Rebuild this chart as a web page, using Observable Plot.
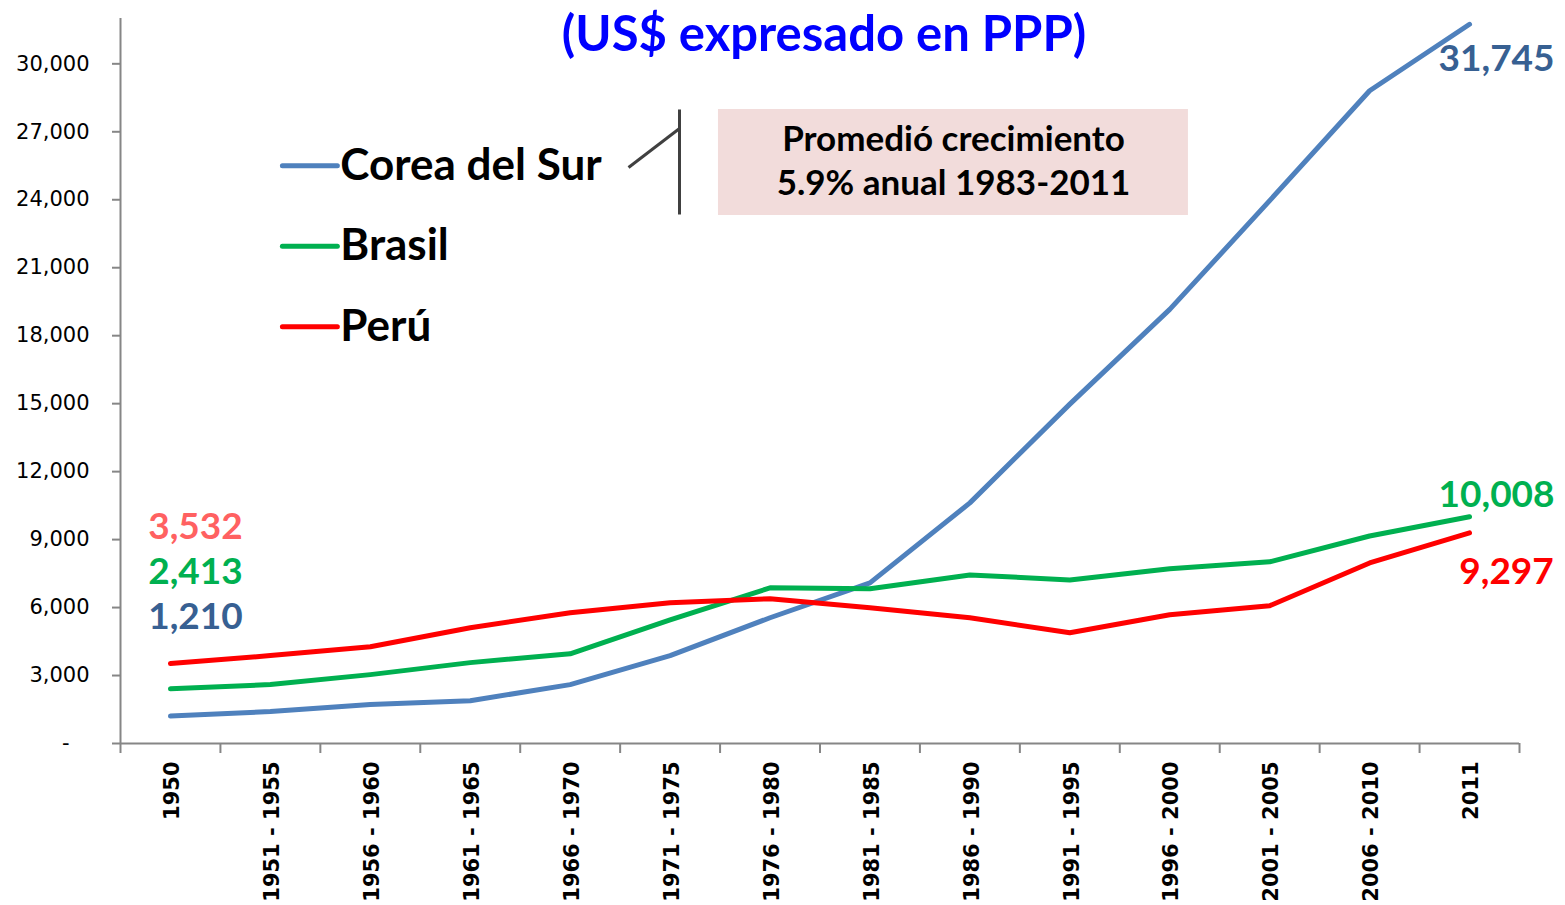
<!DOCTYPE html>
<html>
<head>
<meta charset="utf-8">
<script src="https://cdn.jsdelivr.net/npm/d3@7"></script>
<script src="https://cdn.jsdelivr.net/npm/@observablehq/plot@0.6"></script>
<style>
  html, body { margin: 0; padding: 0; background: #fff; }
  #chart svg { display: block; }
</style>
</head>
<body>
<div id="chart"></div>
<script>
// ---- Data ----
const categories = ["1950","1951 - 1955","1956 - 1960","1961 - 1965","1966 - 1970","1971 - 1975","1976 - 1980","1981 - 1985","1986 - 1990","1991 - 1995","1996 - 2000","2001 - 2005","2006 - 2010","2011"];
const seriesNames = ["Corea del Sur", "Brasil", "Perú"];
const corea  = [1210, 1410, 1720, 1890, 2600, 3880, 5550, 7090, 10620, 14980, 19160, 23960, 28810, 31745];
const brasil = [2413, 2600, 3040, 3570, 3960, 5460, 6870, 6830, 7440, 7220, 7710, 8020, 9160, 10008];
const peru   = [3532, 3880, 4270, 5110, 5770, 6210, 6390, 5990, 5550, 4890, 5680, 6080, 7970, 9297];
const yTicks = [0, 3000, 6000, 9000, 12000, 15000, 18000, 21000, 24000, 27000, 30000];
const titleText = "(US$ expresado en PPP)";
const noteText = "Promedió crecimiento\n5.9% anual 1983-2011";

// ---- Build table ----
const seriesValues = [corea, brasil, peru];
const rows = seriesNames.flatMap((s, k) => seriesValues[k].map((v, i) => ({series: s, i, cat: categories[i], value: v})));
const lineColors = ["#4F81BD", "#00B050", "#FF0000"];
const fmt = d3.format(",");
const axisGray = "#868686";
const calibri = "Lato, 'Open Sans', sans-serif";
const verdana = "'DejaVu Sans', Verdana, sans-serif";

const last = categories.length - 1;
const pick = (s, i) => rows.filter(d => d.series === s && d.i === i);

// label styling per series (end / start)
const valueLabels = [
  {s: "Corea del Sur", i: last, fill: "#376092", dx: 27, dy: 35},
  {s: "Brasil",        i: last, fill: "#00B050", dx: 27, dy: -22},
  {s: "Perú",          i: last, fill: "#FF0000", dx: 37, dy: 39},
  {s: "Perú",          i: 0,    fill: "#FF6161", dx: 25, dy: -136},
  {s: "Brasil",        i: 0,    fill: "#00B050", dx: 25, dy: -117},
  {s: "Corea del Sur", i: 0,    fill: "#376092", dx: 25, dy: -99}
];

// legend rows in chart units
const legendY = [25500, 21950, 18400];
const legend = seriesNames.map((s, k) => ({series: s, y: legendY[k]}));

const marks = [
  // axis lines
  Plot.ruleY([0], {stroke: axisGray, strokeWidth: 2}),
  Plot.ruleX([-0.5], {stroke: axisGray, strokeWidth: 2}),
  // y axis
  Plot.axisY({
    ticks: yTicks, tickSize: 8, tickPadding: 23, label: null,
    tickFormat: d => d === 0 ? "-\u00a0\u00a0\u00a0" : fmt(d),
    stroke: axisGray, strokeWidth: 2, fill: "#000",
    fontSize: 21, fontFamily: verdana
  }),
  // x boundary ticks
  Plot.axisX({
    ticks: d3.range(-0.5, categories.length, 1), tickSize: 10, label: null,
    tickFormat: () => "", stroke: axisGray, strokeWidth: 2
  }),
  // x labels
  Plot.axisX({
    ticks: d3.range(categories.length), tickSize: 0, tickPadding: 18, label: null,
    tickRotate: -90, tickFormat: i => categories[i], fill: "#000", dx: 2,
    fontSize: 21, fontWeight: "bold", fontFamily: verdana
  }),
  // series lines
  Plot.line(rows, {x: "i", y: "value", z: "series", stroke: "series", strokeWidth: 5, strokeLinecap: "round", strokeLinejoin: "round"}),
  // value labels
  ...valueLabels.map(l => Plot.text(pick(l.s, l.i), {
    x: "i", y: "value", text: d => fmt(d.value), fill: l.fill, dx: l.dx, dy: l.dy,
    lineAnchor: "middle", textAnchor: "middle", fontSize: 37, fontWeight: "bold", fontFamily: calibri
  })),
  // legend
  Plot.link(legend, {x1: 1.12, x2: 1.67, y1: "y", y2: "y", stroke: "series", strokeWidth: 5, strokeLinecap: "round"}),
  Plot.text(legend, {x: 1.70, y: "y", text: "series", textAnchor: "start", lineAnchor: "middle", fill: "#000", fontSize: 44, fontWeight: "bold", fontFamily: calibri}),
  // bracket
  Plot.link([{x1: 5.094, x2: 5.094, y1: 23349, y2: 27984}, {x1: 4.584, x2: 5.094, y1: 25424, y2: 27145}],
    {x1: "x1", x2: "x2", y1: "y1", y2: "y2", stroke: "#404040", strokeWidth: 3}),
  // note box
  Plot.rect([{x1: 5.484, x2: 10.187, y1: 23305, y2: 27984}], {x1: "x1", x2: "x2", y1: "y1", y2: "y2", fill: "#F2DCDB"}),
  Plot.text([noteText], {x: 7.836, y: 25821, text: d => d, textAnchor: "middle", lineAnchor: "middle", lineHeight: 1.26, fill: "#000", fontSize: 35, fontWeight: "bold", fontFamily: calibri}),
  // title
  Plot.text([titleText], {frameAnchor: "top", dx: 4, dy: 32, lineAnchor: "bottom", text: d => d, fill: "#0000FF", fontSize: 49, fontWeight: "bold", fontFamily: calibri})
];

const chart = Plot.plot({
  width: 1565, height: 905,
  marginLeft: 120, marginRight: 46, marginTop: 18, marginBottom: 162,
  x: {type: "linear", domain: [-0.5, categories.length - 0.5]},
  y: {domain: [0, 32000]},
  color: {domain: seriesNames, range: lineColors},
  style: {background: "#fff", overflow: "visible"},
  marks
});
document.getElementById("chart").appendChild(chart);
</script>
</body>
</html>
